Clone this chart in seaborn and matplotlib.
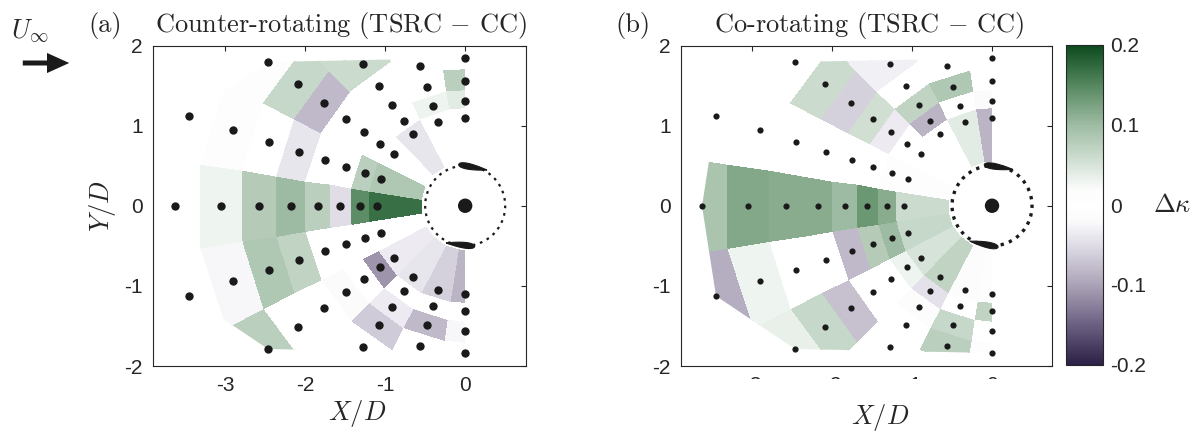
import numpy as np
import pandas as pd
import matplotlib
matplotlib.use("Agg")
import matplotlib.pyplot as plt
import seaborn as sns
from matplotlib.colors import LinearSegmentedColormap, Normalize
from matplotlib.patches import Polygon, Circle, FancyArrowPatch
from matplotlib.transforms import Bbox, TransformedBbox

# measurement rays (deg from the upstream axis, + towards +Y) and radii in D
theta_deg = [-90, -72, -54, -36, -18, 0, 18, 36, 54, 72, 90]
radius = [3.63, 3.05, 2.58, 2.18, 1.84, 1.56, 1.31, 1.10]
r_inner = 0.56
y_half = 1.85  # half height of the measured domain

nan = np.nan
# delta kappa per cell, rows = theta_deg, columns = radius (outer -> inner)
dk_counter = [
    [nan, 0.0, 0.0, 0.0, 0.0, -0.025, 0.0, -0.085],
    [nan, 0.0, 0.0, 0.0, 0.0, -0.08, 0.0, -0.06],
    [nan, 0.0, 0.0, 0.0, -0.065, -0.035, 0.0, -0.04],
    [nan, 0.075, 0.0, 0.0, -0.02, 0.0, -0.11, -0.035],
    [nan, -0.025, 0.085, 0.07, 0.0, 0.0, 0.0, 0.0],
    [nan, 0.03, 0.08, 0.1, 0.075, -0.05, 0.145, 0.17],
    [nan, -0.01, 0.0, -0.04, 0.0, 0.0, 0.075, 0.085],
    [nan, -0.01, 0.065, -0.08, 0.0, 0.0, 0.0, 0.0],
    [nan, 0.0, 0.06, 0.06, 0.0, 0.0, 0.0, -0.04],
    [nan, 0.0, 0.0, 0.0, 0.0, 0.0, 0.03, 0.0],
    [nan, 0.0, 0.0, 0.0, 0.0, 0.075, 0.04, 0.0],
]
dk_co = [
    [nan, 0.0, 0.0, 0.0, -0.01, 0.0, 0.07, -0.01],
    [nan, 0.0, 0.0, 0.0, 0.075, 0.065, 0.0, -0.015],
    [nan, 0.0, 0.0, 0.0, 0.0, 0.02, -0.045, 0.07],
    [nan, 0.035, 0.065, -0.075, 0.0, 0.0, 0.03, 0.05],
    [-0.09, 0.03, 0.0, 0.0, -0.08, 0.08, 0.1, 0.065],
    [0.09, 0.12, 0.115, 0.115, 0.1, 0.135, 0.115, 0.06],
    [0.0, 0.0, 0.0, 0.0, 0.0, 0.0, 0.01, 0.015],
    [nan, 0.0, 0.06, -0.06, 0.055, -0.035, 0.0, 0.0],
    [nan, 0.0, -0.03, -0.03, 0.0, 0.07, -0.085, 0.0],
    [nan, 0.0, 0.0, 0.0, 0.0, 0.085, 0.0, 0.04],
    [nan, 0.0, 0.0, 0.0, 0.0, 0.0, -0.02, -0.085],
]

x_ticks = [-3, -2, -1, 0]
x_labels = ["-3", "-2", "-1", "0"]
y_ticks = [-2, -1, 0, 1, 2]
y_labels = ["-2", "-1", "0", "1", "2"]
cbar_ticks = [-0.2, -0.1, 0, 0.1, 0.2]
cbar_labels = ["-0.2", "-0.1", "0", "0.1", "0.2"]

cmap_vals = [-0.2, -0.15, -0.1, -0.05, -0.02, 0.0, 0.02, 0.05, 0.1, 0.15, 0.2]
cmap_cols = ["#2c2046", "#6c6082", "#aba3b7", "#dfdce6", "#fbfbfc", "#ffffff",
             "#fbfcfb", "#d7e4d9", "#9fbca4", "#568860", "#0c4a1d"]

norm = Normalize(vmin=-0.2, vmax=0.2)
cmap = LinearSegmentedColormap.from_list(
    "dk", list(zip([(v + 0.2) / 0.4 for v in cmap_vals], cmap_cols)))

# cell edges in polar coords
th = np.deg2rad(theta_deg)
th_edges = np.concatenate([[th[0]], (th[1:] + th[:-1]) / 2, [th[-1]]])
r = np.array(radius)
r_edges = np.concatenate([[r[0] + (r[0] - r[1]) / 2], (r[1:] + r[:-1]) / 2, [r_inner]])
TH, RR = np.meshgrid(th_edges, r_edges, indexing="ij")
XE = -RR * np.cos(TH)
YE = RR * np.sin(TH)

# measurement points
TP, RP = np.meshgrid(th, r, indexing="ij")
px = (-RP * np.cos(TP)).ravel()
py = (RP * np.sin(TP)).ravel()
keep = np.abs(py) <= y_half
pts = pd.DataFrame({"x": np.round(px[keep], 9), "y": py[keep]})


def convex_hull(xy):
    p = sorted(map(tuple, np.round(xy, 9)))

    def cross(o, a, b):
        return (a[0] - o[0]) * (b[1] - o[1]) - (a[1] - o[1]) * (b[0] - o[0])

    lower, upper = [], []
    for q in p:
        while len(lower) >= 2 and cross(lower[-2], lower[-1], q) <= 0:
            lower.pop()
        lower.append(q)
    for q in reversed(p):
        while len(upper) >= 2 and cross(upper[-2], upper[-1], q) <= 0:
            upper.pop()
        upper.append(q)
    return np.array(lower[:-1] + upper[:-1])


hull = convex_hull(pts[["x", "y"]].values)


def blade(ax, phi_deg, chord=0.36, t=0.2, rad=0.49):
    s = np.linspace(0, 1, 60)
    yt = 5 * t * (0.2969 * np.sqrt(s) - 0.1260 * s - 0.3516 * s**2 + 0.2843 * s**3 - 0.1036 * s**4)
    u = np.concatenate([s, s[::-1]]) * chord - chord / 2
    v = np.concatenate([yt, -yt[::-1]]) * chord
    phi = np.deg2rad(phi_deg)
    cx, cy = rad * np.cos(phi), rad * np.sin(phi)
    tx, ty = np.sin(phi), -np.cos(phi)
    nx, ny = np.cos(phi), np.sin(phi)
    xs = cx + u * tx + v * nx
    ys = cy + u * ty + v * ny
    ax.add_patch(Polygon(np.c_[xs, ys], closed=True, fc="k", ec="k", lw=0.8, zorder=4))


def draw_panel(ax, values, xlim, dot_size, dash, dash_lw, blades):
    C = np.ma.masked_invalid(np.array(values))
    mesh = ax.pcolormesh(XE, YE, C, cmap=cmap, norm=norm, shading="flat",
                         edgecolors="face", linewidth=0.3, zorder=1)
    mesh.set_clip_path(Polygon(hull, closed=True, transform=ax.transData))

    ax.add_patch(Circle((0, 0), 0.5, fill=False, ec="k", lw=dash_lw,
                        ls=(0, dash), zorder=4))
    ax.add_patch(Circle((0, 0), 0.09, fc="k", ec="none", zorder=4))
    for phi in blades:
        blade(ax, phi)

    sns.scatterplot(data=pts, x="x", y="y", color="k", s=dot_size, linewidth=0,
                    ax=ax, zorder=5, legend=False)

    ax.set_xlim(*xlim)
    ax.set_ylim(-2, 2)
    ax.set_xticks(x_ticks, x_labels)
    ax.set_yticks(y_ticks, y_labels)
    ax.tick_params(direction="in", length=3.5, width=0.8, top=True, right=True,
                   color="#262626", labelcolor="#262626", labelsize=15)
    ax.tick_params(axis="x", pad=7)
    ax.tick_params(axis="y", pad=7.5)
    for sp in ax.spines.values():
        sp.set_linewidth(0.8)
        sp.set_color("#262626")
    ax.set_xlabel("")
    ax.set_ylabel("")
    return mesh


sns.set_theme(style="white")
plt.rcParams["font.family"] = ["Liberation Sans", "DejaVu Sans"]
plt.rcParams["mathtext.fontset"] = "cm"
plt.rcParams["axes.unicode_minus"] = False

W, H = 1201, 432
fig = plt.figure(figsize=(W / 100, H / 100), dpi=100)

ax_a = fig.add_axes([153 / W, 66 / H, 373 / W, 320.5 / H])
ax_b = fig.add_axes([681 / W, 66 / H, 371 / W, 320.5 / H])
cax = fig.add_axes([1066 / W, 67 / H, 37 / W, 320 / H])

mesh = draw_panel(ax_a, dk_counter, (-3.9, 0.76), 36, (1.2, 2.2), 1.6, [78.8, -97])
draw_panel(ax_b, dk_co, (-3.89, 0.75), 20, (1.0, 1.6), 2.4, [80.6, -101.8])

# labels
ax_a.set_xlabel(r"$X/D$", fontsize=19)
ax_a.xaxis.set_label_coords((357 - 153) / 373, -(398 - 366) / 320.5)
ax_b.set_xlabel(r"$X/D$", fontsize=19)
ax_b.xaxis.set_label_coords((880 - 681) / 371, -(402 - 366) / 320.5)
ax_a.set_ylabel(r"$Y/D$", fontsize=19)
ax_a.yaxis.set_label_coords(-(153 - 118) / 373, 0.5)

# panel (b) x tick labels are cut at the bottom of the figure
clip = TransformedBbox(Bbox([[0, (H - 378.5) / H], [1, 1]]), fig.transFigure)
for tk in ax_b.xaxis.get_major_ticks():
    tk.label1.set_clip_box(clip)
    tk.label1.set_clip_on(True)

# colorbar
cb = fig.colorbar(mesh, cax=cax, ticks=cbar_ticks)
cb.set_ticklabels(cbar_labels)
cb.outline.set_linewidth(0.8)
cb.outline.set_edgecolor("#262626")
cax.tick_params(direction="in", length=3.5, width=0.8, color="#262626",
                labelcolor="#262626", labelsize=15, pad=5)
fig.text(1153 / W, 1 - 205 / H, r"$\Delta\kappa$", fontsize=19, ha="left", va="center")

# titles
base = 1 - 32 / H
fig.text(88 / W, base, "(a)", family="cmr10", fontsize=19, ha="left", va="baseline")
fig.text(341 / W, base, "Counter-rotating (TSRC $-$ CC)", family="cmr10",
         fontsize=19, ha="center", va="baseline")
fig.text(615 / W, base, "(b)", family="cmr10", fontsize=19, ha="left", va="baseline")
fig.text(869 / W, base, "Co-rotating (TSRC $-$ CC)", family="cmr10",
         fontsize=19, ha="center", va="baseline")

# free-stream arrow
fig.text(11 / W, 1 - 38 / H, r"$U_\infty$", fontsize=19, ha="left", va="baseline")
arrow = FancyArrowPatch((20 / 100, (H - 63) / 100), (72 / 100, (H - 63) / 100),
                        transform=fig.dpi_scale_trans, mutation_scale=10,
                        arrowstyle="simple,head_length=1.6,head_width=1.45,tail_width=0.36",
                        fc="k", ec="k", lw=0)
fig.add_artist(arrow)

fig.savefig("out.png", dpi=100)
